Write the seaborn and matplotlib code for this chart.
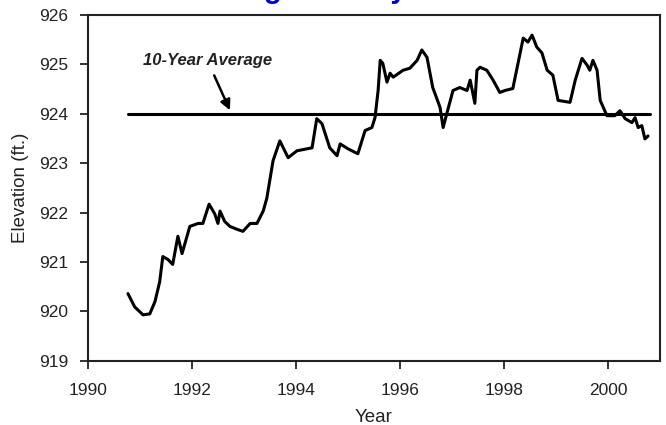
import matplotlib
matplotlib.use("Agg")
import matplotlib.pyplot as plt
import seaborn as sns
import pandas as pd

# elevation (decimal year, feet)
years = [1990.77, 1990.90, 1991.06, 1991.19, 1991.29, 1991.38, 1991.44, 1991.54,
         1991.63, 1991.73, 1991.81, 1991.96, 1992.12, 1992.21, 1992.33, 1992.44,
         1992.50, 1992.54, 1992.63, 1992.73, 1992.87, 1992.98, 1993.12, 1993.25,
         1993.37, 1993.44, 1993.56, 1993.69, 1993.85, 1994.02, 1994.31, 1994.40,
         1994.50, 1994.65, 1994.79, 1994.85, 1995.00, 1995.19, 1995.33, 1995.46,
         1995.52, 1995.58, 1995.62, 1995.67, 1995.75, 1995.81, 1995.87, 1996.06,
         1996.19, 1996.33, 1996.42, 1996.52, 1996.63, 1996.77, 1996.83, 1996.90,
         1997.02, 1997.15, 1997.29, 1997.35, 1997.44, 1997.48, 1997.54, 1997.67,
         1997.79, 1997.92, 1998.02, 1998.17, 1998.27, 1998.37, 1998.46, 1998.54,
         1998.63, 1998.73, 1998.83, 1998.94, 1999.04, 1999.27, 1999.37, 1999.50,
         1999.60, 1999.65, 1999.71, 1999.79, 1999.85, 1999.98, 2000.13, 2000.23,
         2000.33, 2000.46, 2000.52, 2000.58, 2000.65, 2000.71, 2000.77]
elevation = [920.36, 920.09, 919.93, 919.95, 920.20, 920.60, 921.11, 921.05,
             920.95, 921.52, 921.17, 921.72, 921.78, 921.78, 922.17, 921.97,
             921.78, 922.03, 921.82, 921.72, 921.66, 921.62, 921.78, 921.78,
             922.03, 922.29, 923.05, 923.45, 923.11, 923.25, 923.31, 923.90,
             923.80, 923.31, 923.15, 923.39, 923.29, 923.19, 923.66, 923.72,
             923.92, 924.47, 925.08, 925.02, 924.64, 924.82, 924.74, 924.88,
             924.92, 925.08, 925.29, 925.14, 924.53, 924.13, 923.72, 924.00,
             924.47, 924.53, 924.47, 924.68, 924.21, 924.88, 924.94, 924.88,
             924.68, 924.43, 924.47, 924.51, 925.02, 925.53, 925.45, 925.59,
             925.35, 925.23, 924.88, 924.78, 924.27, 924.23, 924.68, 925.12,
             924.98, 924.88, 925.08, 924.88, 924.27, 923.96, 923.96, 924.06,
             923.90, 923.82, 923.92, 923.72, 923.76, 923.49, 923.55]

avg_elevation = 924.0
avg_span = [1990.77, 2000.81]
x_ticks = [1990, 1992, 1994, 1996, 1998, 2000]
y_ticks = [919, 920, 921, 922, 923, 924, 925, 926]

df = pd.DataFrame({"Year": years, "Elevation": elevation})

sns.set_style("ticks")
plt.rcParams["font.family"] = ["Liberation Sans", "DejaVu Sans"]

fig = plt.figure(figsize=(6.66, 4.25), dpi=100)
ax = fig.add_axes([0.132, 0.151, 0.859, 0.814])

sns.lineplot(data=df, x="Year", y="Elevation", color="black", lw=2.2, ax=ax)
ax.plot(avg_span, [avg_elevation, avg_elevation], color="black", lw=2.2)

ax.annotate("10-Year Average", xy=(1992.73, 924.07), xytext=(1991.06, 924.98),
            fontsize=12, fontstyle="italic", fontweight="bold", color="#222222",
            arrowprops=dict(arrowstyle="-|>", color="black", lw=1.8,
                            shrinkA=3, shrinkB=0, mutation_scale=15))

ax.set_xlim(1990, 2001)
ax.set_ylim(919, 926)
ax.set_xticks(x_ticks)
ax.set_yticks(y_ticks)
ax.tick_params(direction="out", length=6, width=1.3, labelsize=12.5, colors="#222222")
ax.tick_params(axis="y", pad=8)
ax.tick_params(axis="x", pad=10)
for s in ax.spines.values():
    s.set_linewidth(1.5)
    s.set_color("#222222")
ax.set_xlabel("Year", fontsize=13.5, color="#222222", labelpad=8)
ax.set_ylabel("Elevation (ft.)", fontsize=13.5, color="#222222", labelpad=7)

# blue page title, clipped by the top edge of the scan (only descenders show)
fig.text(0.042, 1.004, "Lake Level Average History", color="#0000ee",
         fontsize=21, fontweight="bold", va="baseline", ha="left")

fig.savefig("out.png", dpi=100)
